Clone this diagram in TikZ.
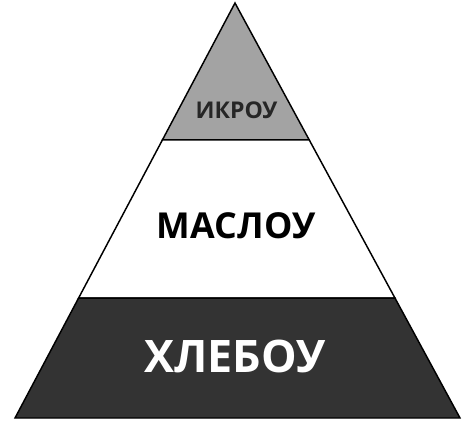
\documentclass[tikz,border=0pt]{standalone}
\usepackage{fontspec}
\setmainfont{Open Sans}
\usepackage{xcolor}
\usepackage{tikz}
\usetikzlibrary{calc}
\definecolor{Spitzgrau}{HTML}{A3A3A3}
\definecolor{Sockel}{HTML}{333333}
\tikzset{
  Stufe/.style={draw=black, line width=1.1pt, line join=miter}, % für Schichten
  Schrift/.style={inner sep=0pt, font=\bfseries\fontsize{#1}{#1}\selectfont} % für Beschriftung
}

\begin{document}
\begin{tikzpicture}[x=0.75pt,y=-0.75pt]
\useasboundingbox (0,0) rectangle (467,436);

%Eckpunkte
\coordinate (Spitze) at (235,3);
\coordinate (UL) at (15,418);
\coordinate (UR) at (460,418);
\coordinate (L1) at ($(Spitze)!0.330!(UL)$);
\coordinate (R1) at ($(Spitze)!0.330!(UR)$);
\coordinate (L2) at ($(Spitze)!0.711!(UL)$);
\coordinate (R2) at ($(Spitze)!0.711!(UR)$);

%Schichten
\draw[Stufe, fill=Spitzgrau] (Spitze) -- (R1) -- (L1) -- cycle;
\draw[Stufe, fill=white] (L1) -- (R1) -- (R2) -- (L2) -- cycle;
\draw[Stufe, fill=Sockel] (L2) -- (R2) -- (UR) -- (UL) -- cycle;

%Beschriftung
\node[Schrift=17.3pt, text=black!85] (ikrou) at (236.5,110.5) {ИКРОУ};
\node[Schrift=26.8pt] (maslou) at (236,225.5) {МАСЛОУ};
\node[Schrift=33.6pt, text=white] (hlebou) at (235,356) {ХЛЕБОУ};

\end{tikzpicture}
\end{document}
